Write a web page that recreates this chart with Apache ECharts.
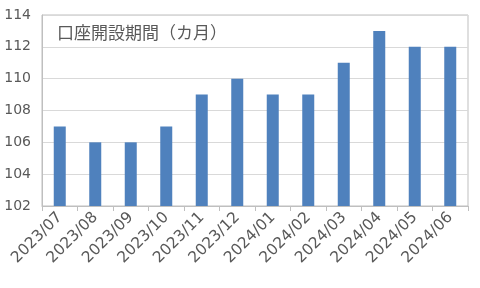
<!DOCTYPE html>
<html><head><meta charset="utf-8">
<script src="https://cdn.jsdelivr.net/npm/echarts@6/dist/echarts.min.js"></script>
<style>html,body{margin:0;padding:0;background:#fff}#c{width:480px;height:288px}</style>
</head><body><div id="c"></div>
<script>
const categories = ['2023/07','2023/08','2023/09','2023/10','2023/11','2023/12','2024/01','2024/02','2024/03','2024/04','2024/05','2024/06'];
const values = [107,106,106,107,109,110,109,109,111,113,112,112];
const titleText = '口座開設期間（カ月）';
const chart = echarts.init(document.getElementById('c'), null, {renderer:'canvas'});
chart.setOption({
  animation:false,
  title:{text:titleText,left:52,top:19,textStyle:{fontFamily:'Noto Sans CJK JP',fontSize:17,fontWeight:'normal',color:'#595959'}},
  grid:{left:42,right:12,top:15,bottom:82,show:true,borderColor:'#bfbfbf',borderWidth:1},
  xAxis:{type:'category',data:categories,
    axisLine:{lineStyle:{color:'#bfbfbf'}},
    axisTick:{show:true,length:5,lineStyle:{color:'#bfbfbf'}},
    axisLabel:{rotate:45,color:'#595959',fontFamily:'DejaVu Sans',fontSize:15.5,margin:9,interval:0}},
  yAxis:{type:'value',min:102,max:114,interval:2,
    axisLine:{show:true,lineStyle:{color:'#bfbfbf'}},
    axisTick:{show:false},
    splitLine:{lineStyle:{color:'#d9d9d9'}},
    axisLabel:{color:'#595959',fontFamily:'DejaVu Sans',fontSize:14,margin:11}},
  series:[{type:'bar',data:values,barWidth:12,itemStyle:{color:'#4f81bd'}}]
});
</script></body></html>
